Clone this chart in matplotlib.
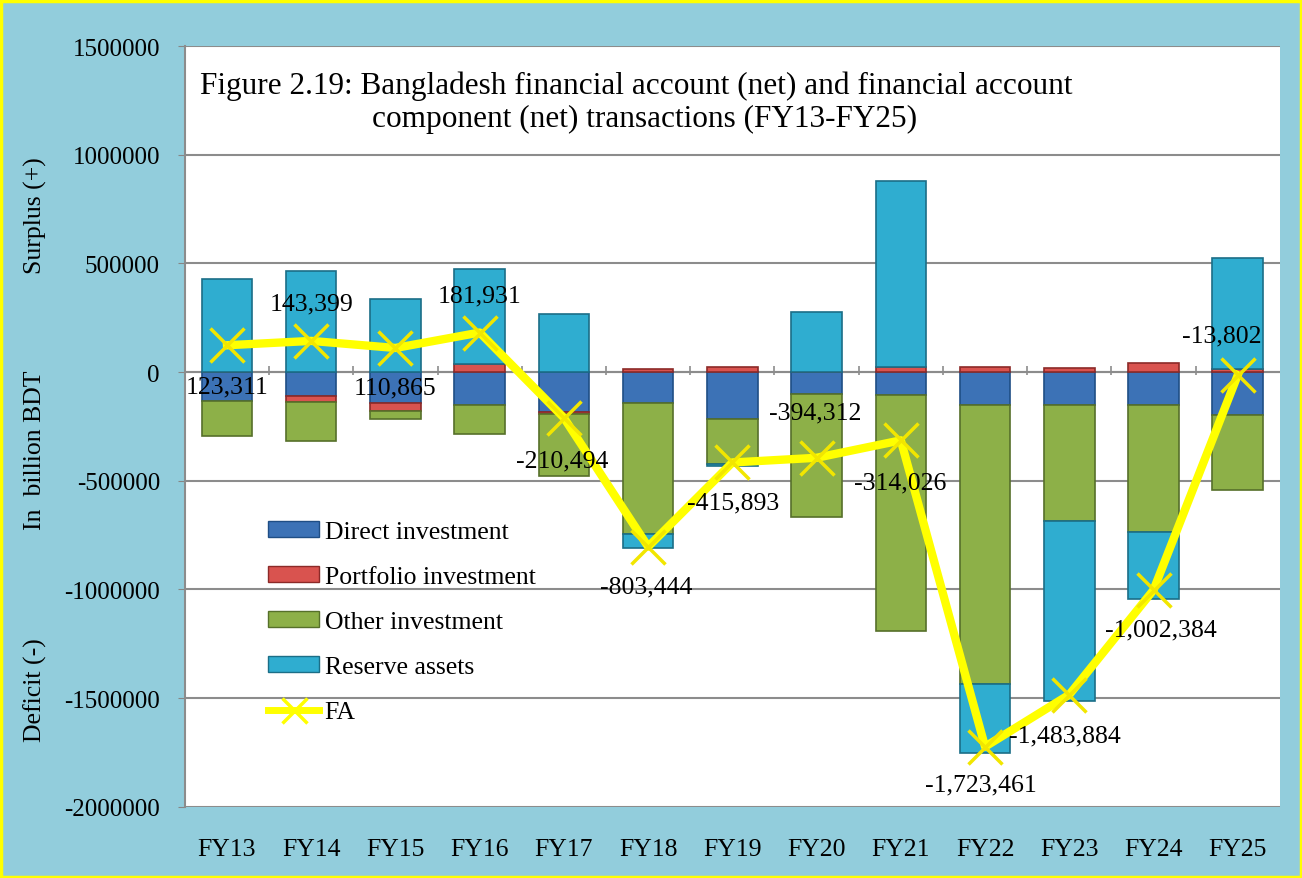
import numpy as np
import matplotlib.pyplot as plt
from matplotlib.patches import Patch, Rectangle
from matplotlib.lines import Line2D

plt.rcParams['font.family'] = ['Liberation Serif', 'DejaVu Serif']

years = ['FY13', 'FY14', 'FY15', 'FY16', 'FY17', 'FY18', 'FY19',
         'FY20', 'FY21', 'FY22', 'FY23', 'FY24', 'FY25']
direct = [-132000, -109000, -140000, -150000, -184000, -141000, -215000,
          -100000, -107000, -152000, -152000, -152000, -199000]
portfolio = [0, -30000, -38000, 35000, -10000, 12000, 23000,
             0, 25000, 25000, 20000, 43000, 15000]
other = [-161000, -177000, -38000, -135000, -282000, -603000, -207000,
         -567000, -1082000, -1281000, -533000, -586000, -342000]
reserve = [428000, 463000, 336000, 439000, 268000, -66000, -10000,
           276000, 855000, -320000, -828000, -304000, 510000]
fa = [123311, 143399, 110865, 181931, -210494, -803444, -415893,
      -394312, -314026, -1723461, -1483884, -1002384, -13802]
# label offsets in pixels (dx, dy) for the FA data labels
label_off = [(0, -41), (0, 37), (0, -39), (0, 37), (-2, -43), (-2, -40), (1, -40),
             (-1, 45), (-1, -42), (-4, -38), (-4, -41), (7, -39), (-16, 40)]

series = [('Direct investment', direct, '#3C72B6', '#1F4E85'),
          ('Portfolio investment', portfolio, '#D9534F', '#8C2A28'),
          ('Other investment', other, '#8DB048', '#56702A'),
          ('Reserve assets', reserve, '#2FADD0', '#1B6E87')]

fs = 18.5

fig = plt.figure(figsize=(13.02, 8.79), dpi=100)
fig.patch.set_facecolor('#92CDDC')
fig.patches.append(Rectangle((0.001, 0.001), 0.998, 0.997, transform=fig.transFigure,
                             fill=False, edgecolor='#FFFF00', linewidth=2.5))
ax = fig.add_axes([0.142, 0.081, 0.841, 0.8655])
ax.set_facecolor('white')

x = np.arange(len(years))
pos_base = np.zeros(len(years))
neg_base = np.zeros(len(years))
for name, vals, col, edge in series:
    v = np.array(vals, dtype=float)
    bottom = np.where(v >= 0, pos_base, neg_base)
    ax.bar(x, v, 0.6, bottom=bottom, color=col, edgecolor=edge, linewidth=1.2, zorder=3)
    pos_base += np.where(v >= 0, v, 0)
    neg_base += np.where(v < 0, v, 0)

ax.plot(x, fa, color='#FFFF00', linewidth=6, marker='x', markersize=24,
        markeredgewidth=2.5, markeredgecolor='#F2E600', zorder=5)
for xi, val, (dx, dy) in zip(x, fa, label_off):
    ax.annotate(f'{val:,}', (xi, val), xytext=(dx, dy), textcoords='offset pixels',
                ha='center', va='center', fontsize=fs, zorder=6)

ax.set_xlim(-0.5, len(years) - 0.5)
ax.set_ylim(-2000000, 1500000)
ax.set_yticks(np.arange(-2000000, 1500001, 500000))
ax.set_yticklabels([str(v) for v in range(-2000000, 1500001, 500000)], fontsize=18)
ax.set_xticks(x)
ax.set_xticklabels(years, fontsize=fs)
ax.tick_params(axis='x', length=0, pad=22.5)
ax.tick_params(axis='y', length=5, color='#868686', pad=13)
ax.grid(axis='y', color='#8C8C8C', linewidth=1.5, zorder=0)
for s in ['top', 'right', 'bottom']:
    ax.spines[s].set_visible(False)
ax.spines['left'].set_color('#8C8C8C')
ax.spines['left'].set_linewidth(1.5)
ax.axhline(0, color='#8C8C8C', linewidth=1.5, zorder=2)
ax.vlines(x[:-1] + 0.5, -15000, 30000, color='#8C8C8C', linewidth=1.2, zorder=2)

ax.text(0.0137, 0.949, 'Figure 2.19: Bangladesh financial account (net) and financial account',
        transform=ax.transAxes, fontsize=22.5, va='center', ha='left')
ax.text(0.171, 0.905, 'component (net) transactions (FY13-FY25)',
        transform=ax.transAxes, fontsize=22.5, va='center', ha='left')

fig.text(0.027, 0.755, 'Surplus (+)', rotation=90, fontsize=fs, ha='center', va='center')
fig.text(0.027, 0.488, 'In  billion BDT', rotation=90, fontsize=fs, ha='center', va='center')
fig.text(0.027, 0.215, 'Deficit (-)', rotation=90, fontsize=fs, ha='center', va='center')

handles = [Patch(facecolor=c, edgecolor=e, label=n) for n, _, c, e in series]
handles.append(Line2D([], [], color='#FFFF00', linewidth=5, marker='x', markersize=18,
                      markeredgewidth=2.5, label='FA'))
ax.legend(handles=handles, loc='upper left', bbox_to_anchor=(0.076, 0.376), frameon=False,
          fontsize=fs, handlelength=2.0, handleheight=0.6, labelspacing=0.89,
          handletextpad=0.2, borderaxespad=0, borderpad=0)

fig.savefig('out.png', dpi=100, facecolor=fig.get_facecolor())
